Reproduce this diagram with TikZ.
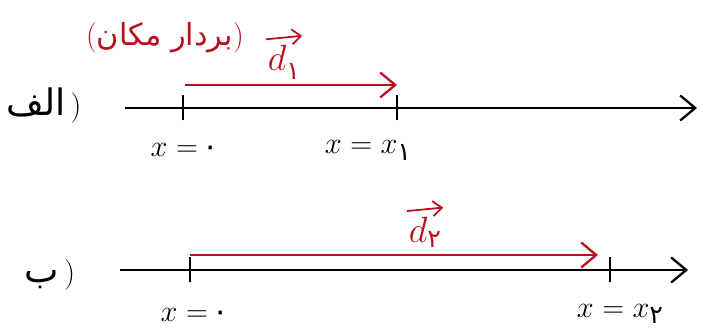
\documentclass[tikz,border=0pt]{standalone}
\usepackage{fontspec}
\newfontfamily\arabicfont[Script=Arabic]{DejaVu Sans}
\TeXXeTstate=1
\usetikzlibrary{arrows.meta}
\definecolor{inkred}{RGB}{185,15,30}

\begin{document}
\begin{tikzpicture}[>={Straight Barb[length=3mm,width=5mm]},
  axis/.style={->, line width=1.3pt},
  tickmark/.style={line width=1.3pt},
  disp/.style={->, line width=1.3pt, inkred},
  vecbar/.style={-{Straight Barb[length=1.8mm,width=3mm]}, line width=1pt, inkred},
  lbl/.style={font=\LARGE},
  veclbl/.style={font=\huge, text=inkred, inner sep=1pt}]

  \useasboundingbox (0,0) rectangle (14.06,6.62);

  % --- 1. محور الف ---
  \coordinate (A0) at (2.5,4.46);
  \coordinate (A1) at (13.94,4.46);
  \coordinate (P0) at (3.66,4.46);
  \coordinate (P1) at (7.94,4.46);
  \draw[axis] (A0) -- (A1);
  \draw[tickmark] ([yshift=-0.25cm]P0) -- ([yshift=0.25cm]P0);
  \draw[tickmark] ([yshift=-0.25cm]P1) -- ([yshift=0.25cm]P1);
  \node[lbl] (partA) at (0.88,4.52) {{\huge\arabicfont\beginR الف\endR}\,)};

  % جابه‌جایی d1
  \coordinate (D0) at (3.7,4.92);
  \coordinate (D1) at (7.94,4.92);
  \draw[disp] (D0) -- (D1);
  \node[veclbl] (d1) at (5.68,5.38) {$d$\raisebox{-5pt}{\Large\arabicfont ۱}};
  \draw[vecbar] ([yshift=2pt]d1.north west) -- ([yshift=4pt]d1.north east);
  \node[lbl, inkred] (posvec) at (3.3,5.86) {({\arabicfont\beginR بردار مکان\endR})};

  \node[lbl] (x0a) at (3.7,3.62) {$x=$\,{\arabicfont ۰}};
  \node[lbl] (x1a) at (7.36,3.62) {$x=x$\raisebox{-4pt}{\Large\arabicfont ۱}};

  % --- 2. محور ب ---
  \coordinate (B0) at (2.4,1.22);
  \coordinate (B1) at (13.76,1.22);
  \coordinate (Q0) at (3.8,1.22);
  \coordinate (Q2) at (12.2,1.22);
  \draw[axis] (B0) -- (B1);
  \draw[tickmark] ([yshift=-0.25cm]Q0) -- ([yshift=0.25cm]Q0);
  \draw[tickmark] ([yshift=-0.25cm]Q2) -- ([yshift=0.25cm]Q2);
  \node[lbl] (partB) at (1.0,1.12) {{\huge\arabicfont\beginR ب\endR}\,)};

  % جابه‌جایی d2
  \coordinate (E0) at (3.8,1.52);
  \coordinate (E2) at (11.96,1.52);
  \draw[disp] (E0) -- (E2);
  \node[veclbl] (d2) at (8.5,1.98) {$d$\raisebox{-3pt}{\Large\arabicfont ۲}};
  \draw[vecbar] ([yshift=2pt]d2.north west) -- ([yshift=4pt]d2.north east);

  \node[lbl] (x0b) at (3.9,0.32) {$x=$\,{\arabicfont ۰}};
  \node[lbl] (x2b) at (12.4,0.34) {$x=x$\raisebox{-3pt}{\Large\arabicfont ۲}};

\end{tikzpicture}
\end{document}
